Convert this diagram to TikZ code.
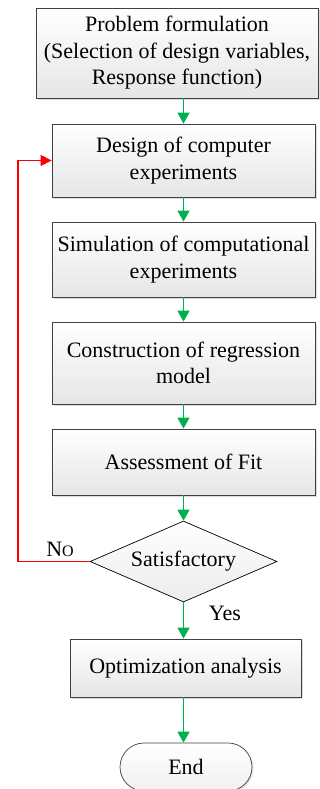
\documentclass[tikz,border=0pt]{standalone}
\usepackage{fontspec}
\setmainfont{Liberation Serif}
\usepackage{tikz}
\usetikzlibrary{arrows.meta,positioning,calc,shapes.geometric,shadows}
\usepackage{xcolor}
\definecolor{flowgreen}{RGB}{0,176,80}
\definecolor{edgegray}{RGB}{64,64,64}

\tikzset{
  stepbox/.style={rectangle,draw=edgegray,line width=0.8pt,inner sep=0pt,align=center,
    top color=white,bottom color=gray!20,
    drop shadow={shadow xshift=1.8pt,shadow yshift=-1.8pt,fill=gray!55}},
  decision/.style={diamond,draw=black,line width=0.7pt,inner sep=0pt,aspect=2.3,
    top color=white,bottom color=gray!15},
  terminal/.style={rectangle,rounded corners=24pt,draw=edgegray,line width=0.7pt,inner sep=0pt,
    top color=white,bottom color=gray!12,
    drop shadow={shadow xshift=1.5pt,shadow yshift=-1.5pt,fill=gray!45}},
  flow/.style={draw=flowgreen,line width=1.4pt,-{Triangle[length=11pt,width=12pt]}},
  back/.style={draw=red,line width=1.2pt,-{Triangle[length=11pt,width=11pt]}}
}

\begin{document}
\begin{tikzpicture}[x=1pt,y=-1pt,font=\fontsize{22}{26.5}\selectfont]
    \useasboundingbox (0,0) rectangle (320,789);
    % process boxes
    \node[stepbox,minimum width=282pt,minimum height=90pt] (prob) at (177,53)
        {Problem formulation\\(Selection of design variables,\\Response function)};
    \node[stepbox,minimum width=263pt,minimum height=73pt] (doe) at (183.5,160.5)
        {Design of computer\\experiments};
    \node[stepbox,minimum width=263pt,minimum height=75pt] (sim) at (183.5,259.5)
        {Simulation of computational\\experiments};
    \node[stepbox,minimum width=263pt,minimum height=82pt] (reg) at (183.5,363)
        {Construction of regression\\model};
    \node[stepbox,minimum width=263pt,minimum height=66pt] (fit) at (183.5,462)
        {Assessment of Fit};
    \node[decision,minimum width=187pt,minimum height=81pt] (sat) at (183.5,561.5)
        {Satisfactory};
    \node[stepbox,minimum width=231pt,minimum height=58pt] (opt) at (185.5,668)
        {Optimization analysis};
    \node[terminal,minimum width=132pt,minimum height=48pt] (end) at (186,767) {End};
    \coordinate (loop) at (18,561.5);

    % connectors
    \draw[flow] (prob.south -| doe.north) -- (doe.north);
    \foreach \a/\b in {doe/sim,sim/reg,reg/fit,fit/sat}{
        \draw[flow] (\a.south) -- (\b.north);
    }
    \draw[flow] (sat.south) -- (sat.south |- opt.north);
    \draw[flow] (opt.south -| sat.south) -- (sat.south |- end.north);
    \draw[back] (sat.west) -- (loop) |- (doe.west);

    \node (no) at (60,549) {N{\fontsize{16}{16}\selectfont O}};
    \node (yes) at (225,613) {Yes};
\end{tikzpicture}
\end{document}
